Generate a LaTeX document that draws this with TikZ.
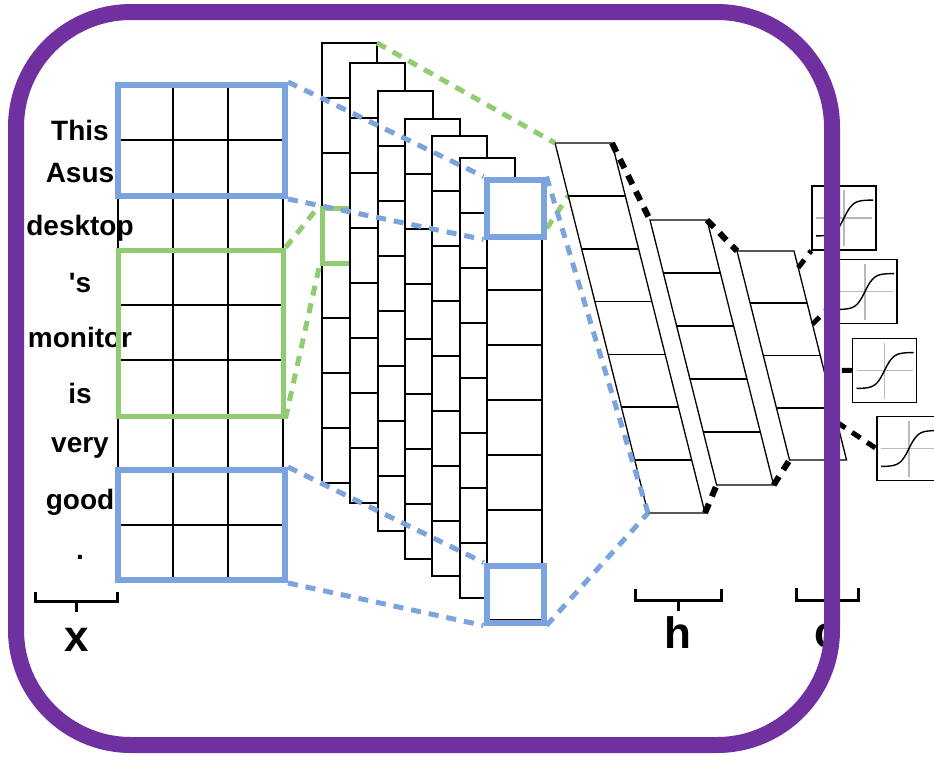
\documentclass[tikz,border=0pt]{standalone}
\usepackage{fontspec}
\setmainfont{Liberation Sans}
\newfontfamily\wordfont{Liberation Sans}
\definecolor{myblue}{RGB}{123,163,222}
\definecolor{mygreen}{RGB}{146,204,113}
\definecolor{mypurple}{RGB}{112,48,160}
\usetikzlibrary{calc}

\begin{document}
\begin{tikzpicture}[x=1pt,y=-1pt,
    cell/.style={draw,line width=1.4pt},
    row/.style={draw,line width=1.8pt},
    map/.style={draw,fill=white,line width=1.5pt},
    bluebox/.style={draw=myblue,line width=6pt,inner sep=0pt},
    greenbox/.style={draw=mygreen,line width=5pt,inner sep=0pt},
    bluedash/.style={myblue,line width=5pt,dash pattern=on 10pt off 8pt},
    greendash/.style={mygreen,line width=5pt,dash pattern=on 10pt off 8pt},
    blackdash/.style={line width=6pt,dash pattern=on 10pt off 8pt},
    word/.style={font=\wordfont\fontsize{28}{28}\selectfont\bfseries,inner sep=0pt},
    lbl/.style={font=\fontsize{44}{44}\selectfont\bfseries,inner sep=0pt},
    brace/.style={line width=3pt},
    sig/.style={draw,fill=white,line width=1.5pt,minimum size=64pt,inner sep=0pt},
    axis/.style={gray!55,line width=1.2pt},
    curve/.style={line width=1.4pt}
    ]
    \useasboundingbox (0,0) rectangle (934,756);

    % the sentence matrix
    \foreach \r in {0,...,9}
    \draw[cell] (118,85+55*\r) -- (283,85+55*\r);
    \foreach \c in {0,...,3}
    \draw[cell] (118+55*\c,85) -- (118+55*\c,580);

    % the words
    \foreach \w/\y [count=\i] in {This/130,Asus/173,desktop/228,'s/283,monitor/337,is/393,very/448,good/502,./557}
    \node[word] (w\i) at (80,\y) {\w};

    % the filter windows
    \node[bluebox,minimum width=167pt,minimum height=111pt] (winA) at (201.5,140.5) {};
    \node[greenbox,minimum width=165pt,minimum height=166pt] (winB) at (200.5,333) {};
    \node[bluebox,minimum width=167pt,minimum height=110pt] (winC) at (201.5,525) {};

    \coordinate (h-1-r1) at (568.3,195.9);

    % the feature maps
    \foreach \x/\t [count=\i] in {322/43,350/63,378/91,405/119,432/136,460/158,487/180} {
    \draw[map] (\x,\t) rectangle ++(55,440);
    \foreach \r in {1,...,7}
    \draw[cell] (\x,\t+55*\r) -- ++(55,0);
    \coordinate (m-\i-ne) at (\x+55,\t);
    \coordinate (m-\i-se) at (\x+55,\t+440);
    \ifnum\i=1
    \node[greenbox,minimum size=55pt] (winD) at (\x+27.5,\t+192.5) {};
    \draw[greendash] (m-1-se) -- (h-1-r1);
    \fi
    }

    % max pooled cells
    \node[bluebox,minimum size=57pt] (poolA) at (515,208) {};
    \node[bluebox,minimum size=57pt] (poolB) at (515,594) {};

    % the slanted layers
    \foreach \x/\y/\n/\h [count=\j] in {555/143/7/52.86,650/220/5/53,737/251/4/52.25} {
    \pgfmathsetmacro\H{\n*\h}
    \pgfmathtruncatemacro\m{\n-1}
    \draw[map,line width=1.3pt] (\x,\y) -- ++(57,0) -- ++(0.2514*\H,\H) -- ++(-57,0) -- cycle;
    \foreach \r in {1,...,\m}
    \draw[row] (\x+0.2514*\h*\r,\y+\h*\r) -- ++(57,0);
    \coordinate (h-\j-nw) at (\x,\y);
    \coordinate (h-\j-ne) at (\x+57,\y);
    \coordinate (h-\j-sw) at (\x+0.2514*\H,\y+\H);
    \coordinate (h-\j-se) at (\x+57+0.2514*\H,\y+\H);
    }

    % the sigmoid outputs
    \foreach \sx/\sy [count=\k] in {844/218,865/291.5,884.5/370.5,909/448.5} {
    \node[sig] (s\k) at (\sx,\sy) {};
    \draw[axis] (\sx-28,\sy) -- (\sx+28,\sy);
    \draw[axis] (\sx,\sy-28) -- (\sx,\sy+28);
    \draw[curve] plot[domain=-28:29,samples=40,smooth] ({\sx+\x},{\sy-18*tanh(\x/9)});
    }

    % the windows to the maps
    \draw[bluedash] (winA.north east) -- (poolA.north west);
    \draw[bluedash] (winA.south east) -- (poolA.south west);
    \draw[bluedash] (winC.north east) -- (poolB.north west);
    \draw[bluedash] (winC.south east) -- (poolB.south west);
    \draw[greendash] (winB.north east) -- (winD.north west);
    \draw[greendash] (winB.south east) -- (winD.south west);
    \draw[greendash] (m-1-ne) -- (h-1-nw);
    \draw[bluedash] (poolA.north east) -- (h-1-sw);
    \draw[bluedash] (poolB.south east) -- (h-1-sw);

    % the dense layers
    \draw[blackdash] (h-1-ne) -- (h-2-nw);
    \draw[blackdash] (h-1-se) -- (h-2-sw);
    \draw[blackdash] (h-2-ne) -- (h-3-nw);
    \draw[blackdash] (h-2-se) -- (h-3-sw);
    \coordinate (o1) at ($(h-3-ne)!0.08!(h-3-se)$);
    \coordinate (o2) at ($(h-3-ne)!0.35!(h-3-se)$);
    \coordinate (o3) at ($(h-3-ne)!0.57!(h-3-se)$);
    \coordinate (o4) at ($(h-3-ne)!0.82!(h-3-se)$);
    \coordinate (t2) at ($(s2.south west)!0.3!(s2.north west)$);
    \draw[blackdash,line width=5pt] (o1) -- (s1.south west);
    \draw[blackdash,line width=5pt] (o2) -- (t2);
    \draw[blackdash,line width=5pt] (o3) -- (s3.west);
    \draw[blackdash,line width=5pt] (o4) -- (s4.west);

    % the braces and their labels
    \draw[brace] (35,592) -- (35,601) -- (117,601) -- (117,592) (76,601) -- (76,612);
    \node[lbl] (xl) at (77,640) {x};
    \draw[brace] (635,589) -- (635,600) -- (721,600) -- (721,589) (678,600) -- (678,611);
    \node[lbl] (hl) at (678,633) {h};
    \draw[brace] (796,588) -- (796,600) -- (858,600) -- (858,588) (827,600) -- (827,611);
    \node[lbl] (cl) at (827,636) {c};

    % the frame
    \draw[mypurple,line width=16pt,rounded corners=115pt] (16,12) rectangle (832,745);
\end{tikzpicture}
\end{document}
